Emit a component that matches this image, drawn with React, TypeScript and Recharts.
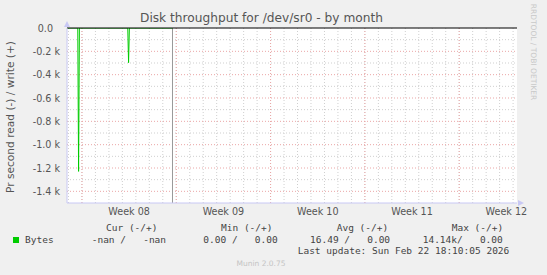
import { LineChart, Line, XAxis, YAxis, ReferenceLine, ReferenceDot, ReferenceArea } from "recharts"

// time in days from the left edge of the graph
const sampleDay = [0, 0.8, 0.86, 0.92, 4.51, 4.57, 4.63, 7.83]
const readBytes = [0, 0, -1229, 0, 0, -297, 0, 0]

const weekLabels = ["Week 08", "Week 09", "Week 10", "Week 11", "Week 12"]
const weekMid = [4.61, 11.61, 18.61, 25.61, 32.61]
const weekStart = [1.11, 8.11, 15.11, 22.11, 29.11]
const yTicks = [0, -200, -400, -600, -800, -1000, -1200, -1400]
const yMinor = [-100, -300, -500, -700, -900, -1100, -1300]
const dayLines = Array.from({ length: 34 }, (_, i) => 0.11 + i)

const X_MAX = 33.4
const Y_MIN = -1500

const data = sampleDay.map((d, i) => ({ day: d, bytes: readBytes[i] }))

const AXIS = "#c8c8f4"
const MINOR = "#cfcfcf"
const MAJOR = "#eba6a6"

const YTick = (props: any) => {
  const { x, y, payload } = props
  const v = payload.value
  const label = v === 0 ? "0.0" : `${(v / 1000).toFixed(1)} k`
  return (
    <text x={v === 0 ? x - 7 : x} y={y} textAnchor="end" dominantBaseline="central" fontSize={9.6} fill="#555">
      {label}
    </text>
  )
}

const UpArrow = (props: any) => {
  const { cx, cy } = props
  return <path d={`M${cx - 3},${cy - 1} L${cx},${cy - 7} L${cx + 3},${cy - 1} Z`} fill={AXIS} />
}
const RightArrow = (props: any) => {
  const { cx, cy } = props
  return <path d={`M${cx + 1},${cy - 3} L${cx + 7},${cy} L${cx + 1},${cy + 3} Z`} fill={AXIS} />
}

const mono: React.CSSProperties = {
  position: "absolute",
  fontFamily: "DejaVu Sans Mono",
  fontSize: 9.5,
  color: "#444",
  whiteSpace: "pre",
  lineHeight: "12px",
}

export default function App() {
  return (
    <div style={{ position: "absolute", left: 0, top: 0, width: 547, height: 275, background: "#f0f0f0", fontFamily: "DejaVu Sans", overflow: "hidden" }}>
      <LineChart width={547} height={275} data={data} margin={{ top: 28, right: 30, bottom: 52, left: 7 }}>
        <XAxis
          dataKey="day"
          type="number"
          domain={[0, X_MAX]}
          ticks={weekMid}
          tickFormatter={(v: number) => weekLabels[weekMid.indexOf(v)]}
          tickLine={false}
          tickSize={5}
          tickMargin={0}
          height={20}
          axisLine={{ stroke: AXIS }}
          tick={{ fontSize: 9.6, fill: "#555" }}
          allowDataOverflow
        />
        <YAxis
          type="number"
          domain={[Y_MIN, 0]}
          ticks={yTicks}
          tick={<YTick />}
          tickLine={false}
          tickSize={7}
          tickMargin={0}
          width={60}
          axisLine={{ stroke: AXIS }}
          allowDataOverflow
        />
        <ReferenceArea x1={0} x2={X_MAX} y1={Y_MIN} y2={0} fill="#fff" fillOpacity={1} stroke="none" />
        {dayLines.map((d) => (
          <ReferenceLine key={"d" + d} x={d} stroke={MINOR} strokeDasharray="1 2" />
        ))}
        {yMinor.map((v) => (
          <ReferenceLine key={"m" + v} y={v} stroke={MINOR} strokeDasharray="1 2" />
        ))}
        {yTicks.slice(1).map((v) => (
          <ReferenceLine key={"M" + v} y={v} stroke={MAJOR} strokeDasharray="1 2" />
        ))}
        {weekStart.map((d) => (
          <ReferenceLine key={"w" + d} x={d} stroke={MAJOR} strokeDasharray="1 2" />
        ))}
        <ReferenceLine x={7.83} stroke="#999" />
        <Line dataKey="bytes" type="linear" stroke="#00cc00" strokeWidth={1} dot={false} isAnimationActive={false} />
        <ReferenceLine y={0} stroke="#000" />
        <ReferenceDot x={0} y={0} r={0} shape={<UpArrow />} ifOverflow="visible" />
        <ReferenceDot x={X_MAX} y={Y_MIN} r={0} shape={<RightArrow />} ifOverflow="visible" />
      </LineChart>

      <div style={{ position: "absolute", left: 0, width: 523, top: 11, textAlign: "center", fontSize: 12.2, color: "#555" }}>
        Disk throughput for /dev/sr0 - by month
      </div>
      <div style={{ position: "absolute", left: 10, top: 117, width: 0, height: 0 }}>
        <div style={{ position: "absolute", transform: "translate(-50%, -50%) rotate(-90deg)", whiteSpace: "nowrap", fontSize: 10.6, color: "#555" }}>
          Pr second read (-) / write (+)
        </div>
      </div>
      <div style={{ position: "absolute", left: 533, top: 52, width: 0, height: 0 }}>
        <div style={{ position: "absolute", transform: "translate(-50%, -50%) rotate(90deg)", whiteSpace: "nowrap", fontSize: 7.5, color: "#c8c8c8" }}>
          RRDTOOL / TOBI OETIKER
        </div>
      </div>

      <div style={{ ...mono, left: 106, top: 222 }}>Cur (-/+)</div>
      <div style={{ ...mono, left: 221, top: 222 }}>Min (-/+)</div>
      <div style={{ ...mono, left: 336.7, top: 222 }}>Avg (-/+)</div>
      <div style={{ ...mono, left: 451.7, top: 222 }}>Max (-/+)</div>

      <div style={{ position: "absolute", left: 13, top: 237, width: 6, height: 6, background: "#00cc00" }} />
      <div style={{ ...mono, left: 25, top: 234 }}>Bytes</div>
      <div style={{ ...mono, left: 91.7, top: 234 }}>-nan /   -nan</div>
      <div style={{ ...mono, left: 203.3, top: 234 }}>0.00 /   0.00</div>
      <div style={{ ...mono, left: 310, top: 234 }}>16.49 /   0.00</div>
      <div style={{ ...mono, left: 422.7, top: 234 }}>14.14k/   0.00</div>
      <div style={{ ...mono, left: 297.7, top: 245 }}>Last update: Sun Feb 22 18:10:05 2026</div>

      <div style={{ position: "absolute", left: 0, width: 522, top: 259, textAlign: "center", fontSize: 7.5, color: "#c4c4c4" }}>
        Munin 2.0.75
      </div>
    </div>
  )
}
